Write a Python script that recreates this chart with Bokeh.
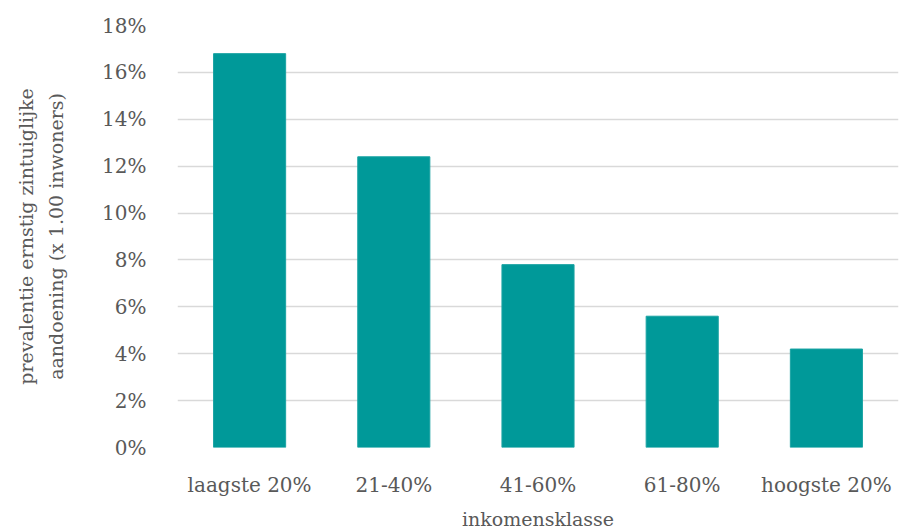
from bokeh.plotting import figure
from bokeh.models import FactorRange, Range1d, NumeralTickFormatter, FixedTicker
from bokeh.embed import file_html
from bokeh.resources import INLINE

categories = ["laagste 20%", "21-40%", "41-60%", "61-80%", "hoogste 20%"]
prevalence = [0.168, 0.124, 0.078, 0.056, 0.042]
y_ticks = [0.0, 0.02, 0.04, 0.06, 0.08, 0.10, 0.12, 0.14, 0.16, 0.18]

FONT = "DejaVu Serif"
TXT = "#595959"

p = figure(
    x_range=FactorRange(*categories, range_padding=0),
    y_range=Range1d(0, 0.18),
    width=899, height=532,
    output_backend="svg", toolbar_location=None,
    min_border_left=177, min_border_right=1,
    min_border_top=25, min_border_bottom=84,
)
p.vbar(x=categories, top=prevalence, width=0.5,
       fill_color="#009999", line_color="#1aa3a3", line_width=1)

p.outline_line_color = None
p.xgrid.grid_line_color = None
p.ygrid.grid_line_color = "#d9d9d9"
p.ygrid.grid_line_width = 1.5
p.yaxis.ticker = FixedTicker(ticks=y_ticks)
p.yaxis.formatter = NumeralTickFormatter(format="0%")

for ax in (p.xaxis[0], p.yaxis[0]):
    ax.axis_line_color = None
    ax.major_tick_line_color = None
    ax.minor_tick_line_color = None
    ax.major_label_text_font = FONT
    ax.major_label_text_font_size = "20px"
    ax.major_label_text_color = TXT
    ax.axis_label_text_font = FONT
    ax.axis_label_text_font_size = "19px"
    ax.axis_label_text_font_style = "normal"
    ax.axis_label_text_color = TXT

p.yaxis.axis_label = "prevalentie ernstig zintuiglijke\naandoening (x 1.00 inwoners)"
p.yaxis.axis_label_text_line_height = 1.35
p.yaxis.major_label_standoff = 25
p.yaxis.axis_label_standoff = 32
p.xaxis.axis_label = "inkomensklasse"
p.xaxis.axis_label_text_line_height = 0.9
p.xaxis.major_label_standoff = 19
p.xaxis.axis_label_standoff = 8

open("out.html", "w").write(file_html(p, INLINE))
